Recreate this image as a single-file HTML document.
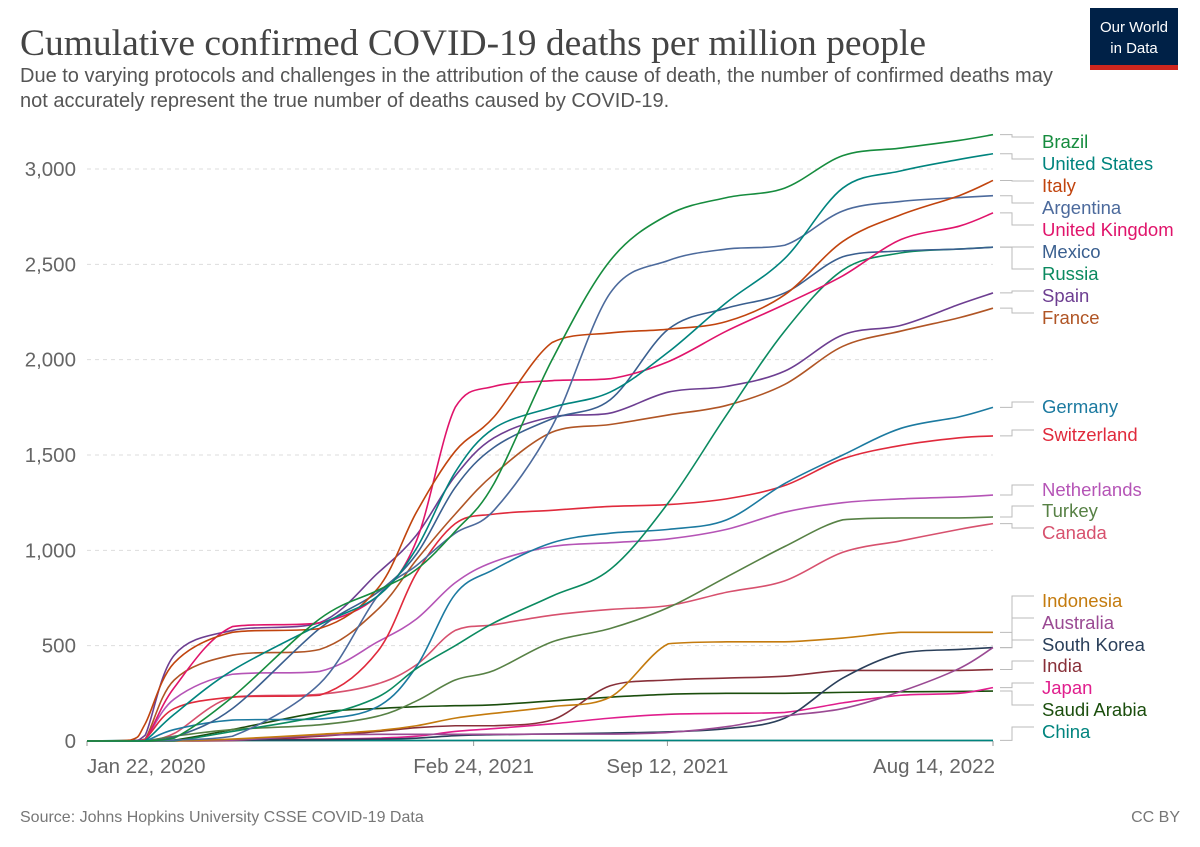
<!DOCTYPE html>
<html><head><meta charset="utf-8">
<style>
body{margin:0;background:#fff;width:1200px;height:847px;overflow:hidden;font-family:"Liberation Sans",sans-serif;}
svg{display:block}
</style></head>
<body>
<svg id="chart" width="1200" height="847">
<text x="20" y="55" font-family="Liberation Serif, serif" font-size="37.5" fill="#444">Cumulative confirmed COVID-19 deaths per million people</text>
<text x="20" y="82" font-size="20" fill="#555">Due to varying protocols and challenges in the attribution of the cause of death, the number of confirmed deaths may</text>
<text x="20" y="107" font-size="20" fill="#555">not accurately represent the true number of deaths caused by COVID-19.</text>
<g>
<rect x="1090" y="8" width="88" height="62" fill="#002147"/>
<rect x="1090" y="65" width="88" height="5" fill="#ce261e"/>
<text x="1134" y="32" font-size="15" fill="#fff" text-anchor="middle">Our World</text>
<text x="1134" y="53" font-size="15" fill="#fff" text-anchor="middle">in Data</text>
</g>
<g id="grid"></g><g id="axes"></g><g id="lines"></g><g id="legend"></g>
<text x="20" y="822" font-size="16" fill="#777">Source: Johns Hopkins University CSSE COVID-19 Data</text>
<text x="1180" y="822" font-size="16" fill="#777" text-anchor="end">CC BY</text>
</svg>
<script>
const days=[0,45,60,90,150,240,300,340,380,420,480,540,600,660,720,780,840,900,935];
const yTicks=[0,500,1000,1500,2000,2500,3000];
const yTickLabels=["0","500","1,000","1,500","2,000","2,500","3,000"];
const xTickDays=[0,399,599,935];
const xTickLabels=["Jan 22, 2020","Feb 24, 2021","Sep 12, 2021","Aug 14, 2022"];
const names=["Brazil","United States","Italy","Argentina","United Kingdom","Mexico","Russia","Spain","France","Germany","Switzerland","Netherlands","Turkey","Canada","Indonesia","Australia","South Korea","India","Japan","Saudi Arabia","China"];
const colors=["#168c3e","#00847e","#c1440e","#4c6a9c","#e0146b","#3a5f8f","#0b8a60","#6d3e91","#b05525","#1c7aa0","#e02a3c","#b554b6","#578145","#d7516e","#c47b0e","#9a4a93","#2a3f5a","#883039","#e01e8d","#1b4e0d","#00847e"];
const labelY=[142,164,186,208,230,252,274,296,318,407,435,490,511,533,601,623,645,666,688,710,732];
const sBrazil=[0,0,0,15,230,640,790,900,1100,1350,2000,2520,2760,2850,2900,3070,3110,3150,3180];
const sUS=[0,0,2,140,370,610,760,1010,1410,1640,1750,1830,2040,2300,2530,2900,2990,3050,3080];
const sItaly=[0,5,90,410,570,590,800,1200,1520,1700,2090,2140,2160,2200,2340,2620,2760,2860,2940];
const sArgentina=[0,0,0,5,25,300,760,920,1090,1210,1650,2350,2520,2580,2600,2780,2830,2850,2860];
const sUK=[0,0,5,280,600,620,760,1050,1750,1860,1890,1900,1990,2150,2290,2440,2630,2700,2770];
const sMexico=[0,0,0,20,170,590,780,980,1330,1540,1690,1790,2160,2270,2350,2540,2570,2580,2590];
const sRussia=[0,0,0,1,50,130,230,380,500,620,760,900,1250,1710,2150,2470,2560,2580,2590];
const sSpain=[0,0,30,450,580,620,880,1080,1390,1590,1700,1720,1830,1860,1940,2130,2180,2290,2350];
const sFrance=[0,0,10,320,450,480,690,950,1190,1400,1620,1660,1710,1760,1870,2070,2150,2220,2270];
const sGermany=[0,0,0,60,110,115,180,390,770,900,1040,1090,1110,1160,1350,1500,1640,1700,1750];
const sSwitzerland=[0,0,10,170,230,240,470,880,1140,1190,1210,1230,1240,1270,1340,1480,1550,1590,1600];
const sNetherlands=[0,0,10,220,350,365,520,640,830,940,1020,1040,1060,1110,1200,1250,1270,1280,1290];
const sTurkey=[0,0,0,25,60,85,130,210,320,370,520,590,700,860,1020,1160,1170,1170,1175];
const sCanada=[0,0,2,40,230,245,300,400,580,610,660,690,710,780,840,990,1050,1110,1140];
const sIndonesia=[0,0,0,1,10,35,55,80,120,145,180,230,510,520,520,540,570,570,570];
const sAustralia=[0,0,1,3,4,30,35,35,35,35,36,36,45,75,130,170,260,380,490];
const sSouthKorea=[0,1,2,4,5,7,10,15,28,33,37,42,48,65,120,330,460,480,490];
const sIndia=[0,0,0,0,2,25,50,70,80,80,110,290,320,330,340,370,370,370,375];
const sJapan=[0,0,0,1,6,10,15,25,50,65,90,120,140,145,150,200,240,250,280];
const sSaudi=[0,0,0,5,60,150,170,180,185,190,210,230,245,250,250,255,258,260,262];
const sChina=[0,3,3,3,3,3,3,3,3,3,3,3,3,3,3,3,3,3,3];
const series=[sBrazil,sUS,sItaly,sArgentina,sUK,sMexico,sRussia,sSpain,sFrance,sGermany,sSwitzerland,sNetherlands,sTurkey,sCanada,sIndonesia,sAustralia,sSouthKorea,sIndia,sJapan,sSaudi,sChina];

const X0=87,X1=993,Y0=741,Y1=169;
const xs=d=>X0+d/935*(X1-X0);
const ys=v=>Y0-v/3000*(Y0-Y1);
const NS="http://www.w3.org/2000/svg";
function mk(tag,attrs,parent,text){const e=document.createElementNS(NS,tag);for(const k in attrs)e.setAttribute(k,attrs[k]);if(text!=null)e.textContent=text;parent.appendChild(e);return e;}
const grid=document.getElementById('grid'),axes=document.getElementById('axes'),lines=document.getElementById('lines'),legend=document.getElementById('legend');
yTicks.forEach((t,i)=>{
  if(t>0){const g=mk('line',{x1:X0,x2:X1,y1:ys(t),y2:ys(t),stroke:'#ddd','stroke-dasharray':'4,4'},grid);
  
  }
  const l=mk('text',{x:76,y:ys(t)+7,'font-size':20.5,fill:'#666','text-anchor':'end'},axes,yTickLabels[i]);
  
  
});
const ax=mk('line',{x1:X0,x2:X1,y1:Y0,y2:Y0,stroke:'#999'},axes);


xTickDays.forEach((d,i)=>{
  const tk=mk('line',{x1:xs(d),x2:xs(d),y1:Y0,y2:Y0+5,stroke:'#999'},axes);
  
  
  const anchor=i==0?'start':(i==xTickDays.length-1?'end':'middle');
  const xx=i==0?xs(d):(i==xTickDays.length-1?xs(d)+2:xs(d));
  const l=mk('text',{x:xx,y:773,'font-size':20.5,fill:'#666','text-anchor':anchor},axes,xTickLabels[i]);
  
  
});
series.slice().reverse().forEach((s,ri)=>{
  const i=series.length-1-ri;
  const pts=s.map((v,j)=>[xs(days[j]),ys(v)]);
  let d='M'+pts[0][0]+','+pts[0][1];
  for(let j=0;j<pts.length-1;j++){
    const p0=pts[Math.max(0,j-1)],p1=pts[j],p2=pts[j+1],p3=pts[Math.min(pts.length-1,j+2)];
    let c1y=p1[1]+(p2[1]-p0[1])/6,c2y=p2[1]-(p3[1]-p1[1])/6;
    const lo=Math.min(p1[1],p2[1]),hi=Math.max(p1[1],p2[1]);
    c1y=Math.min(hi,Math.max(lo,c1y));c2y=Math.min(hi,Math.max(lo,c2y));
    d+=' C'+(p1[0]+(p2[0]-p0[0])/6)+','+c1y+' '+(p2[0]-(p3[0]-p1[0])/6)+','+c2y+' '+p2[0]+','+p2[1];
  }
  const p=mk('path',{d:d,fill:'none',stroke:colors[i],'stroke-width':1.6},lines);
  
  
  const ey=ys(s[s.length-1]), ly=labelY[i];
  const c=mk('path',{d:`M1000,${ey} H1012 V${ly-5} H1034`,fill:'none',stroke:'#bbb','stroke-width':1},legend);
  
  
  const t=mk('text',{x:1042,y:ly+6,'font-size':18.5,fill:colors[i]},legend,names[i]);
  
  
});
</script>
</body></html>
